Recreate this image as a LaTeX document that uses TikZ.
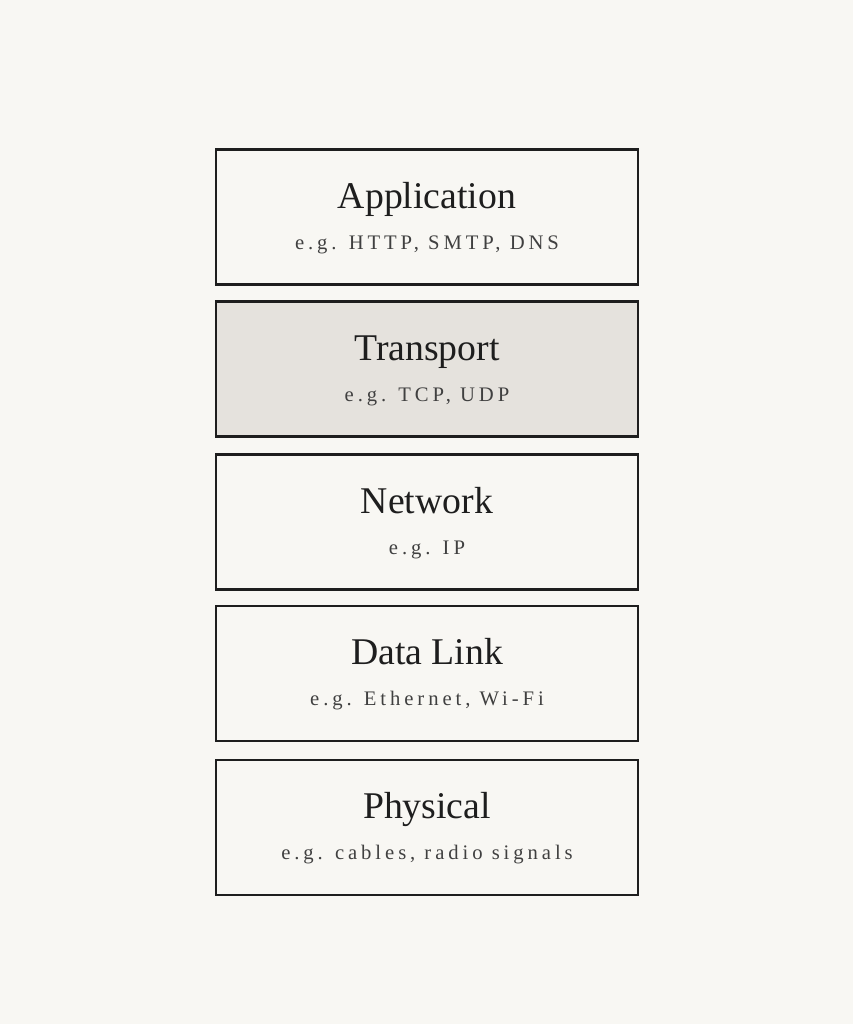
\documentclass[tikz,border=0pt]{standalone}
\usepackage{fontspec}
\setmainfont{Liberation Serif}
\newfontfamily\spacedfont{Liberation Serif}[LetterSpace=19]
\usepackage{tikz}
\usetikzlibrary{positioning}

\definecolor{paper}{HTML}{F8F7F3}
\definecolor{shade}{HTML}{E5E2DD}
\definecolor{ink}{HTML}{1E1E1E}

\tikzset{
	layerbox/.style={draw=ink, line width=1.6pt, minimum width=316.5pt, minimum height=101.25pt, inner sep=0pt},
	layertitle/.style={anchor=base, text=ink, font=\fontsize{28.3}{32}\selectfont, inner sep=0pt},
	layersub/.style={anchor=base, text=ink!85, font=\spacedfont\fontsize{15.5}{18}\selectfont, inner sep=0pt}
}

\begin{document}
\begin{tikzpicture}[x=0.75pt, y=-0.75pt]
	\fill[paper] (0,0) rectangle (853,1024);
	\useasboundingbox (0,0) rectangle (853,1024);
	% the five layers, top to bottom
	\node[layerbox] (app) at (427,217) {};
	\node[layerbox, fill=shade] (trans) at (427,369) {};
	\node[layerbox] (net) at (427,522) {};
	\node[layerbox] (link) at (427,673.5) {};
	\node[layerbox] (phys) at (427,827.5) {};
	% names
	\node[layertitle] (apptitle) at ([yshift=6.75pt]app.center) {Application};
	\node[layersub] (appsub) at ([yshift=-24pt]app.center) {e.g. HTTP, SMTP, DNS};
	\node[layertitle] (transtitle) at ([yshift=6.75pt]trans.center) {Transport};
	\node[layersub] (transsub) at ([yshift=-24pt]trans.center) {e.g. TCP, UDP};
	\node[layertitle] (nettitle) at ([yshift=6.75pt]net.center) {Network};
	\node[layersub] (netsub) at ([yshift=-24pt]net.center) {e.g. IP};
	\node[layertitle] (linktitle) at ([yshift=6.75pt]link.center) {Data Link};
	\node[layersub] (linksub) at ([yshift=-24pt]link.center) {e.g. Ethernet, Wi-Fi};
	\node[layertitle] (phystitle) at ([yshift=6.75pt]phys.center) {Physical};
	\node[layersub] (physsub) at ([yshift=-24pt]phys.center) {e.g. cables, radio signals};
\end{tikzpicture}
\end{document}
